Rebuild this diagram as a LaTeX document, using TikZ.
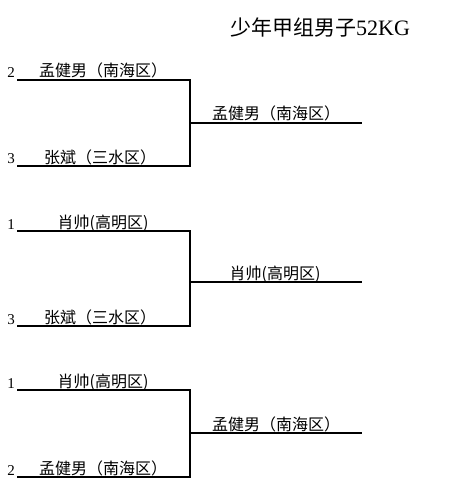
\documentclass[tikz,border=0pt]{standalone}
\usepackage{fontspec}
\newfontfamily\cjk{Noto Sans CJK SC}
\newfontfamily\digits{Liberation Serif}
\usetikzlibrary{positioning}

\begin{document}
\begin{tikzpicture}[x=1pt, y=-1pt, line width=1.1pt,
    player/.style={font=\cjk\fontsize{16}{16}\selectfont, anchor=base, inner sep=0pt},
    seed/.style={font=\digits\fontsize{15}{15}\selectfont, anchor=base, inner sep=0pt},
    title/.style={font=\cjk\fontsize{21}{21}\selectfont, anchor=base, inner sep=0pt}]

    \useasboundingbox (0,0) rectangle (452,489);

    % 标题
    \node[title] (ttl) at (320,36) {少年甲组男子{\digits\fontsize{22}{22}\selectfont 52KG}};

    % 第一组
    \coordinate (a1) at (17,80);  \coordinate (a2) at (190,80);
    \coordinate (a3) at (17,166); \coordinate (a4) at (190,166);
    \coordinate (aw) at (190,123); \coordinate (awe) at (362,123);
    \draw (a1) -- (a2) -- (a4) -- (a3);
    \draw (aw) -- (awe);
    \node[seed] (as1) at (11,78) {2};
    \node[seed] (as2) at (11,164) {3};
    \node[player] (ap1) at (103,77) {孟健男（南海区）};
    \node[player] (ap2) at (100,163) {张斌（三水区）};
    \node[player] (apw) at (276,120) {孟健男（南海区）};

    % 第二组
    \coordinate (b1) at (17,231); \coordinate (b2) at (190,231);
    \coordinate (b3) at (17,326); \coordinate (b4) at (190,326);
    \coordinate (bw) at (190,282); \coordinate (bwe) at (362,282);
    \draw (b1) -- (b2) -- (b4) -- (b3);
    \draw (bw) -- (bwe);
    \node[seed] (bs1) at (11,229) {1};
    \node[seed] (bs2) at (11,324) {3};
    \node[player] (bp1) at (103,228) {肖帅(高明区)};
    \node[player] (bp2) at (100,323) {张斌（三水区）};
    \node[player] (bpw) at (275,279) {肖帅(高明区)};

    % 第三组
    \coordinate (c1) at (17,390); \coordinate (c2) at (190,390);
    \coordinate (c3) at (17,477); \coordinate (c4) at (190,477);
    \coordinate (cw) at (190,433); \coordinate (cwe) at (362,433);
    \draw (c1) -- (c2) -- (c4) -- (c3);
    \draw (cw) -- (cwe);
    \node[seed] (cs1) at (11,388) {1};
    \node[seed] (cs2) at (11,475) {2};
    \node[player] (cp1) at (103,387) {肖帅(高明区)};
    \node[player] (cp2) at (103,474) {孟健男（南海区）};
    \node[player] (cpw) at (276,430) {孟健男（南海区）};

\end{tikzpicture}
\end{document}
